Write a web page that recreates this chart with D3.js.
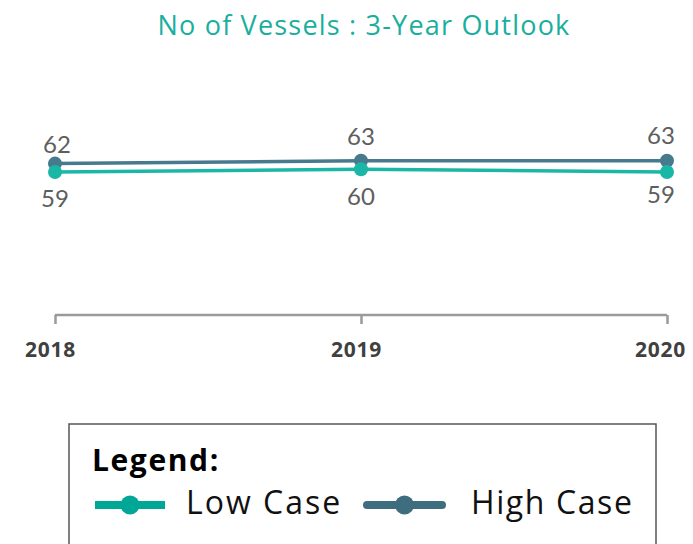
<!DOCTYPE html>
<html>
<head>
<meta charset="utf-8">
<script src="https://cdn.jsdelivr.net/npm/d3@7"></script>
<style>
  html, body { margin: 0; padding: 0; background: #fff; }
  svg { display: block; }
</style>
</head>
<body>
<svg id="chart" width="693" height="544"></svg>
<script>
// Vessel counts by year for the two outlook scenarios
const years = ["2018", "2019", "2020"];
const lowCase = [59, 60, 59];
const highCase = [62, 63, 63];
const seriesNames = ["Low Case", "High Case"];
const seriesColors = ["#1bb7a6", "#477a8d"];
const legendColors = ["#00a796", "#3f6d80"];

const svg = d3.select("#chart");

// Title
svg.append("text")
  .attr("x", 364).attr("y", 35)
  .attr("text-anchor", "middle")
  .attr("font-family", "'Open Sans', sans-serif")
  .attr("font-weight", 400)
  .attr("font-size", 27)
  .attr("letter-spacing", 1.2)
  .attr("fill", "#1aae9e")
  .text("No of Vessels : 3-Year Outlook");

const x = d3.scalePoint().domain(years).range([55, 667]);
const y = d3.scaleLinear().domain([40, 80]).range([225.2, 113.2]);

// Bottom axis with downward ticks
const axisG = svg.append("g")
  .attr("transform", "translate(0,315)")
  .call(d3.axisBottom(x).tickSize(9).tickSizeOuter(0).tickPadding(18));
axisG.select(".domain").attr("stroke", "#9a9a9a").attr("stroke-width", 2.5)
  .attr("d", `M${x(years[0])},0H${x(years[years.length - 1])}`);
axisG.selectAll(".tick line").attr("stroke", "#9a9a9a").attr("stroke-width", 2.5);
axisG.selectAll(".tick text")
  .attr("font-family", "'Open Sans', sans-serif")
  .attr("font-weight", 700)
  .attr("font-size", 21)
  .attr("letter-spacing", 0.8)
  .attr("fill", "#404040")
  .attr("dx", (d, i) => i === years.length - 1 ? -7 : -5);

const data = [lowCase, highCase];
const line = d3.line().x((d, i) => x(years[i])).y(d => y(d));
// per-point label nudges (above for high case, below for low case)
const labelOffsets = [[35, 36, 31], [-11, -16, -17]];
const labelDx = [0, 0, -6];

// Draw high case first so low case sits on top
[1, 0].forEach(s => {
  const vals = data[s];
  const g = svg.append("g");
  g.append("path")
    .attr("d", line(vals))
    .attr("fill", "none")
    .attr("stroke", seriesColors[s])
    .attr("stroke-width", 3.5);
  g.selectAll("circle").data(vals).join("circle")
    .attr("cx", (d, i) => x(years[i]))
    .attr("cy", d => y(d))
    .attr("r", 7)
    .attr("fill", seriesColors[s]);
  g.selectAll("text").data(vals).join("text")
    .attr("x", (d, i) => x(years[i]) + labelDx[i] + (s === 1 && i === 0 ? 2 : 0))
    .attr("y", (d, i) => y(d) + labelOffsets[s][i])
    .attr("text-anchor", "middle")
    .attr("font-family", "Lato, sans-serif")
    .attr("font-size", 24)
    .attr("fill", "#5e5e5e")
    .text(d => d);
});

// Legend box
const lg = svg.append("g");
lg.append("rect")
  .attr("x", 69).attr("y", 424)
  .attr("width", 587).attr("height", 140)
  .attr("fill", "#fff")
  .attr("stroke", "#555").attr("stroke-width", 1.5);
lg.append("text")
  .attr("x", 92).attr("y", 471)
  .attr("font-family", "'Open Sans', sans-serif")
  .attr("font-weight", 700)
  .attr("font-size", 30)
  .attr("letter-spacing", 1.6)
  .attr("fill", "#000")
  .text("Legend:");

const items = [
  { x0: 95, x1: 165, tx: 186, ls: 2 },
  { x0: 367, x1: 442, tx: 471, ls: 1.6 }
];
items.forEach((it, i) => {
  lg.append("line")
    .attr("x1", it.x0).attr("x2", it.x1)
    .attr("y1", 505).attr("y2", 505)
    .attr("stroke", legendColors[i])
    .attr("stroke-width", 8)
    .attr("stroke-linecap", i === 1 ? "round" : "butt");
  lg.append("circle")
    .attr("cx", (it.x0 + it.x1) / 2).attr("cy", 505)
    .attr("r", 9.5)
    .attr("fill", legendColors[i]);
  lg.append("text")
    .attr("x", it.tx).attr("y", 514)
    .attr("font-family", "'Open Sans', sans-serif")
    .attr("font-size", 32)
    .attr("letter-spacing", it.ls)
    .attr("fill", "#111")
    .text(seriesNames[i]);
});
</script>
</body>
</html>
